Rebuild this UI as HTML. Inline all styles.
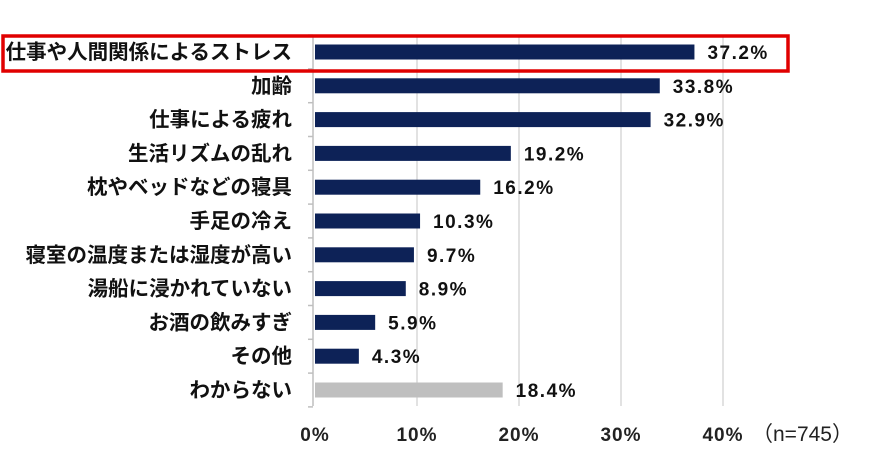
<!DOCTYPE html>
<html><head><meta charset="utf-8"><style>
body{margin:0;background:#fff;width:872px;height:447px;overflow:hidden;font-family:"Liberation Sans","Noto Sans CJK JP",sans-serif}
</style></head><body>
<svg id="c" width="872" height="447" xmlns="http://www.w3.org/2000/svg"></svg>
<script>
const categories=["仕事や人間関係によるストレス","加齢","仕事による疲れ","生活リズムの乱れ","枕やベッドなどの寝具","手足の冷え","寝室の温度または湿度が高い","湯船に浸かれていない","お酒の飲みすぎ","その他","わからない"];
const values=[37.2,33.8,32.9,19.2,16.2,10.3,9.7,8.9,5.9,4.3,18.4];
const tickValues=[0,10,20,30,40];
const tickLabels=["0%","10%","20%","30%","40%"];
const svg=document.getElementById('c');const NS="http://www.w3.org/2000/svg";
const x0=315,pxPer=10.2,top0=52,pitch=33.8,bh=15;
const xs=v=>x0+v*pxPer, ys=i=>top0+i*pitch;
function mk(t,a,p){const e=document.createElementNS(NS,t);for(const k in a)e.setAttribute(k,a[k]);(p||svg).appendChild(e);return e;}
tickValues.forEach((v,i)=>{
 if(v>0){const g=mk('line',{x1:xs(v),x2:xs(v),y1:35,y2:406,stroke:'#d9d9d9','stroke-width':1.5});
 
 }
 const t=mk('text',{x:xs(v),y:441,'text-anchor':'middle','font-size':19,'font-weight':'bold',fill:'#222','letter-spacing':1});t.textContent=tickLabels[i];
 
 
});
const n=mk('text',{x:752,y:441,'font-size':21,fill:'#222'});n.textContent='（n=745）';


const ax=mk('line',{x1:313,x2:313,y1:35,y2:406,stroke:'#bfbfbf','stroke-width':1.5});


for(let i=0;i<=categories.length;i++){const y=ys(i)-pitch/2;const tk=mk('line',{x1:308,x2:313,y1:y,y2:y,stroke:'#bfbfbf','stroke-width':1.5});

}
categories.forEach((c,i)=>{
 const y=ys(i);
 const b=mk('rect',{x:x0,y:y-bh/2,width:xs(values[i])-x0,height:bh,fill:i===categories.length-1?'#bfbfbf':'#0d2257'});
 
 
 const l=mk('text',{x:292,y:y+7,'text-anchor':'end','font-size':20.5,'font-weight':'bold',fill:'#111'});l.textContent=c;
 
 
 const v=mk('text',{x:xs(values[i])+13,y:y+7,'font-size':19,'font-weight':'bold',fill:'#111','letter-spacing':1.5});v.textContent=values[i].toFixed(1)+'%';
 
 
});
const hl=mk('rect',{x:3,y:36,width:785,height:35,fill:'none',stroke:'#e00000','stroke-width':3.5});


</script>
</body></html>
